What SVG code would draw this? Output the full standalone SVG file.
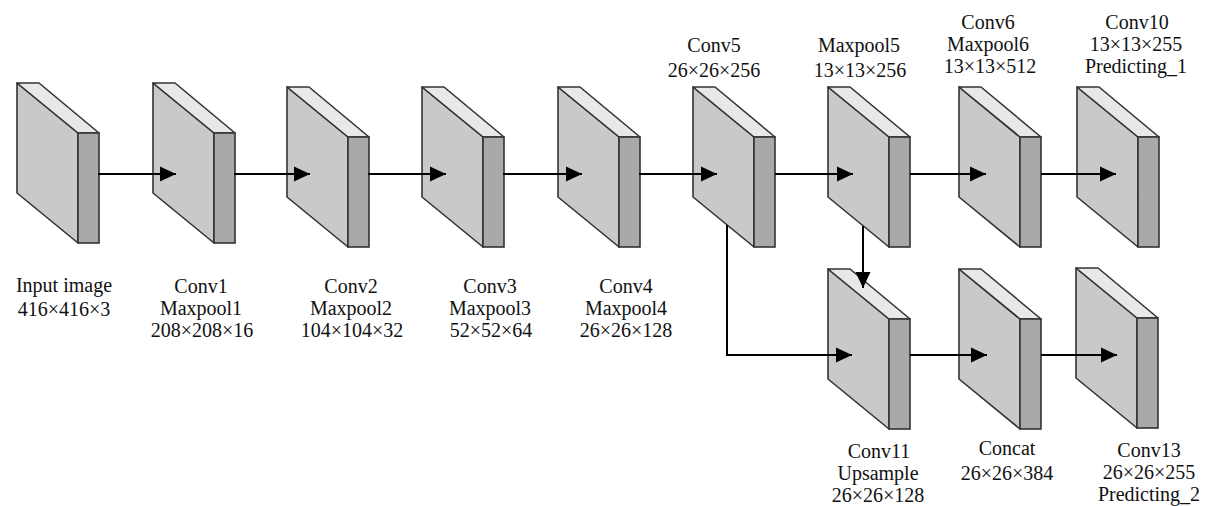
<svg xmlns="http://www.w3.org/2000/svg" xmlns:xlink="http://www.w3.org/1999/xlink" width="1205" height="506" viewBox="0 0 1205 506">
<style>
.side{fill:#c9c9c9;stroke:#333;stroke-width:1.6;stroke-linejoin:round}
.top{fill:#e8e8e8;stroke:#333;stroke-width:1.6;stroke-linejoin:round}
.front{fill:#a9a9a9;stroke:#333;stroke-width:1.6}
.lbl{font-size:20px;fill:#111;text-anchor:middle}
.conn{fill:none;stroke:#000;stroke-width:2}
</style>
<defs>
<marker id="ah" markerUnits="userSpaceOnUse" markerWidth="16" markerHeight="16" viewBox="0 0 16 16" refX="16" refY="8" orient="auto">
<path d="M0,0.5 L16,8 L0,15.5 Z" fill="#000"/>
</marker>
<g id="blk">
<polygon class="side" points="0,0 61,50 61,160 0,110"/>
<polygon class="top" points="0,0 22,0 82,50 61,50"/>
<rect class="front" x="61" y="50" width="21" height="110"/>
</g>
</defs>
<rect width="1205" height="506" fill="#fff"/>
<g font-family="'Liberation Serif', 'Times New Roman', serif">
<g id="n-input"><use xlink:href="#blk" x="17" y="83"/>
<text class="lbl" x="64" y="292">Input image</text><text class="lbl" x="64" y="316">416×416×3</text></g>
<g id="n-conv1"><use xlink:href="#blk" x="153" y="83"/>
<text class="lbl" x="201" y="293">Conv1</text><text class="lbl" x="201" y="315">Maxpool1</text><text class="lbl" x="202" y="337">208×208×16</text></g>
<g id="n-conv2"><use xlink:href="#blk" x="287" y="87"/>
<text class="lbl" x="351" y="293">Conv2</text><text class="lbl" x="351" y="315">Maxpool2</text><text class="lbl" x="352" y="337">104×104×32</text></g>
<g id="n-conv3"><use xlink:href="#blk" x="422" y="87"/>
<text class="lbl" x="490" y="293">Conv3</text><text class="lbl" x="490" y="315">Maxpool3</text><text class="lbl" x="491" y="337">52×52×64</text></g>
<g id="n-conv4"><use xlink:href="#blk" x="558" y="87"/>
<text class="lbl" x="626" y="293">Conv4</text><text class="lbl" x="626" y="315">Maxpool4</text><text class="lbl" x="626" y="337">26×26×128</text></g>
<g id="n-conv5"><use xlink:href="#blk" x="693" y="87"/>
<text class="lbl" x="714" y="52">Conv5</text><text class="lbl" x="714" y="77">26×26×256</text></g>
<g id="n-maxpool5"><use xlink:href="#blk" x="828" y="87"/>
<text class="lbl" x="859" y="52">Maxpool5</text><text class="lbl" x="860" y="77">13×13×256</text></g>
<g id="n-conv6"><use xlink:href="#blk" x="959" y="87"/>
<text class="lbl" x="988" y="29">Conv6</text><text class="lbl" x="988" y="51">Maxpool6</text><text class="lbl" x="990" y="73">13×13×512</text></g>
<g id="n-conv10"><use xlink:href="#blk" x="1077" y="87"/>
<text class="lbl" x="1137" y="29">Conv10</text><text class="lbl" x="1136" y="51">13×13×255</text><text class="lbl" x="1136" y="73">Predicting_1</text></g>
<g id="n-conv11"><use xlink:href="#blk" x="828" y="269"/>
<text class="lbl" x="879" y="458">Conv11</text><text class="lbl" x="878" y="480">Upsample</text><text class="lbl" x="878" y="502">26×26×128</text></g>
<g id="n-concat"><use xlink:href="#blk" x="959" y="269"/>
<text class="lbl" x="1007" y="455">Concat</text><text class="lbl" x="1007" y="480">26×26×384</text></g>
<g id="n-conv13"><use xlink:href="#blk" x="1076" y="268"/>
<text class="lbl" x="1149" y="457">Conv13</text><text class="lbl" x="1149" y="479">26×26×255</text><text class="lbl" x="1149" y="501">Predicting_2</text></g>
</g>
<g id="connectors">
<path class="conn" marker-end="url(#ah)" d="M98,174 H176"/>
<path class="conn" marker-end="url(#ah)" d="M234,174 H310"/>
<path class="conn" marker-end="url(#ah)" d="M368,174 H446"/>
<path class="conn" marker-end="url(#ah)" d="M503,174 H582"/>
<path class="conn" marker-end="url(#ah)" d="M639,174 H717"/>
<path class="conn" marker-end="url(#ah)" d="M775,174 H853"/>
<path class="conn" marker-end="url(#ah)" d="M910,174 H986"/>
<path class="conn" marker-end="url(#ah)" d="M1041,174 H1116"/>
<path class="conn" marker-end="url(#ah)" d="M727,225 V355 H852"/>
<path class="conn" marker-end="url(#ah)" d="M863,226 V288"/>
<path class="conn" marker-end="url(#ah)" d="M910,355 H987"/>
<path class="conn" marker-end="url(#ah)" d="M1041,355 H1117"/>
</g>
</svg>
